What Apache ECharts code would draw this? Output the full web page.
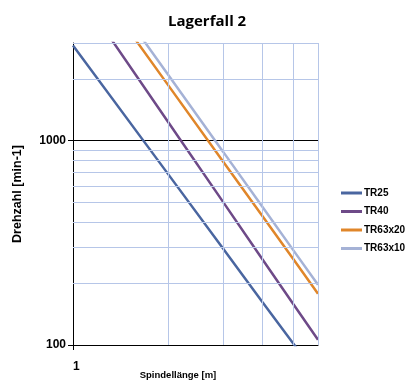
<!DOCTYPE html>
<html>
<head>
<meta charset="utf-8">
<script src="https://cdn.jsdelivr.net/npm/echarts@6/dist/echarts.min.js"></script>
<style>
  html, body { margin: 0; padding: 0; background: #ffffff; overflow: hidden; }
  #chart { width: 411px; height: 383px; }
</style>
</head>
<body>
<div id="chart"></div>
<script>
// Spindle length [m]
const lengths = [1, 2, 3, 4, 5, 6];
// Speed [min-1] per series
const tr25    = [2920, 689, 296, 162, 102, 70];
const tr40    = [5860, 1240, 500, 262, 159, 106];
const tr63x20 = [8290, 1877, 788, 426, 264, 178];
const tr63x10 = [9400, 2110, 880, 473, 292, 197];
const seriesNames = ['TR25', 'TR40', 'TR63x20', 'TR63x10'];
const seriesColors = ['#4a66a0', '#6e4a88', '#e0862a', '#a5b2d6'];
// Minor gridlines
const yMinorGrid = [200, 300, 400, 500, 600, 700, 800, 900, 2000, 3000];
const xMinorGrid = [2, 3, 4, 5, 6];

const allData = [tr25, tr40, tr63x20, tr63x10];
const fontFam = '"Liberation Sans", Arial, sans-serif';
const gridBlue = '#b6c6e8';

const chart = echarts.init(document.getElementById('chart'), null, { renderer: 'canvas' });

const series = [{
  name: '__grid',
  type: 'line',
  data: [],
  silent: true,
  z: 1,
  markLine: {
    silent: true,
    symbol: 'none',
    animation: false,
    label: { show: false },
    lineStyle: { color: gridBlue, width: 1, type: 'solid' },
    data: yMinorGrid.map(v => ({ yAxis: v })).concat(xMinorGrid.map(v => ({ xAxis: v })))
  }
}];
allData.forEach((arr, i) => {
  series.push({
    name: seriesNames[i],
    type: 'line',
    data: lengths.map((l, j) => [l, arr[j]]),
    symbol: 'none',
    clip: true,
    z: 3,
    lineStyle: { color: seriesColors[i], width: 2.5 },
    itemStyle: { color: seriesColors[i] }
  });
});

chart.setOption({
  animation: false,
  backgroundColor: '#ffffff',
  title: {
    text: 'Lagerfall 2',
    left: 163,
    top: 9,
    textStyle: { fontFamily: '"Open Sans", sans-serif', fontWeight: 'bold', fontSize: 15, color: '#000' }
  },
  legend: {
    data: seriesNames,
    orient: 'vertical',
    left: 336,
    top: 183,
    itemWidth: 21,
    itemHeight: 3,
    itemGap: 8.5,
    icon: 'rect',
    textStyle: { fontFamily: fontFam, fontWeight: 'bold', fontSize: 10, color: '#000', padding: [0, 0, 0, -3] }
  },
  grid: { left: 73, right: 93, top: 43, bottom: 38, containLabel: false, outerBoundsMode: 'none' },
  xAxis: {
    type: 'log',
    logBase: 10,
    min: 1,
    max: 6,
    name: 'Spindellänge [m]',
    nameLocation: 'middle',
    nameGap: 25,
    nameMoveOverlap: false,
    nameTextStyle: { fontFamily: fontFam, fontWeight: 'bold', fontSize: 9.5, color: '#000', padding: [0, 35, 0, 0] },
    axisLine: { show: true, lineStyle: { color: '#000', width: 1 } },
    axisTick: { show: true, length: 5, lineStyle: { color: '#000' } },
    axisLabel: { showMaxLabel: false, margin: 16, fontFamily: fontFam, fontWeight: 'bold', fontSize: 12, color: '#000', align: 'left',
      formatter: v => String(v) },
    splitLine: { show: false }
  },
  yAxis: {
    type: 'log',
    logBase: 10,
    min: 100,
    max: 3000,
    name: 'Drehzahl [min-1]',
    nameLocation: 'middle',
    nameGap: 49,
    nameMoveOverlap: false,
    nameTextStyle: { fontFamily: fontFam, fontWeight: 'bold', fontSize: 12.5, color: '#000' },
    axisLine: { show: true, lineStyle: { color: '#000', width: 1 } },
    axisTick: { show: true, length: 5, lineStyle: { color: '#000' } },
    axisLabel: { showMaxLabel: false, margin: 7, fontFamily: fontFam, fontWeight: 'bold', fontSize: 12, color: '#000',
      formatter: v => String(Math.round(v)) },
    splitLine: { show: true, lineStyle: { color: '#000', width: 1 } }
  },
  series: series
});
</script>
</body>
</html>
